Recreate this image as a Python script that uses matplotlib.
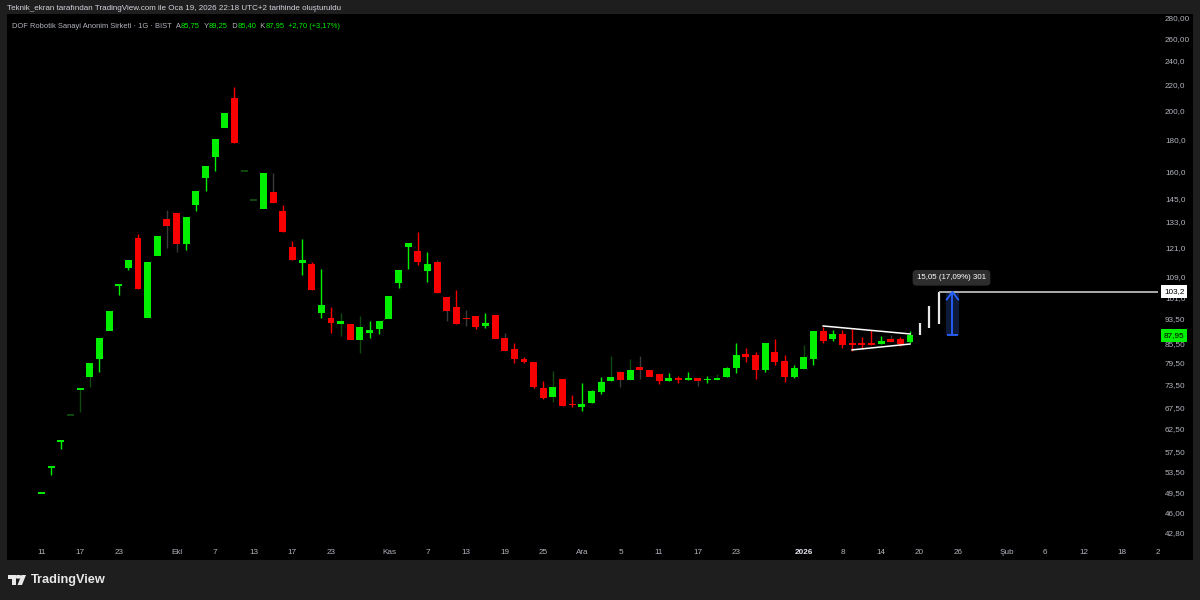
import matplotlib
matplotlib.use("Agg")
import matplotlib.pyplot as plt
from matplotlib.patches import Rectangle, Circle, Polygon
from matplotlib.transforms import blended_transform_factory
from matplotlib.ticker import FixedLocator, NullLocator, FixedFormatter, NullFormatter

plt.rcParams['font.family'] = ['Liberation Sans', 'DejaVu Sans']

# ---------------- data ----------------
opens = [49.4, 54.3, 59.75, 65.7, 72.2, 75.6, 80.7, 89.4, 105.6, 112.3,
         125.6, 93.7, 117.5, 134.5, 137.4, 122.9, 141.5, 156.3, 168.4, 187.6,
         209.1, 160.4, 144.3, 139.3, 148.2, 138.4, 121.5, 114.6, 114.2, 95.5,
         93.7, 91.6, 91.6, 86.4, 88.8, 89.9, 93.4, 106.5, 121.5, 119.6,
         111.3, 114.8, 101.1, 97.5, 93.8, 94.4, 91.1, 94.7, 87.2, 83.7,
         80.7, 79.7, 72.6, 70.3, 74.9, 68.5, 67.7, 68.6, 71.6, 74.5,
         77.0, 74.7, 78.3, 77.5, 76.4, 74.5, 75.4, 74.7, 75.4, 74.6,
         74.7, 75.6, 78.1, 82.2, 81.9, 77.6, 82.7, 80.1, 75.6, 77.8,
         80.6, 89.4, 86.9, 88.4, 85.4, 85.4, 85.4, 85.1, 86.7, 86.7,
         85.75]
highs = [49.4, 54.3, 59.75, 65.7, 72.2, 79.4, 87.2, 96.0, 105.6, 115.8,
         127.3, 114.8, 126.4, 138.9, 137.4, 135.3, 148.7, 163.3, 179.8, 197.7,
         217.9, 160.4, 144.3, 158.8, 158.8, 141.5, 124.2, 124.9, 114.8, 111.9,
         97.6, 95.5, 91.6, 94.4, 92.6, 92.6, 101.6, 111.7, 123.0, 128.3,
         119.3, 115.8, 101.1, 103.8, 96.5, 94.4, 95.3, 94.7, 88.8, 85.4,
         81.4, 79.7, 74.5, 77.2, 75.1, 70.7, 73.8, 72.0, 75.6, 81.5,
         77.3, 80.7, 81.5, 77.5, 76.4, 76.7, 75.9, 77.0, 75.4, 75.9,
         76.5, 78.3, 85.6, 84.1, 82.7, 85.6, 86.8, 81.9, 78.9, 84.9,
         89.4, 90.7, 89.7, 89.7, 90.0, 87.3, 89.7, 87.7, 88.1, 87.3,
         89.25]
lows = [49.4, 52.8, 58.0, 65.7, 66.6, 72.9, 76.9, 89.4, 101.9, 111.8,
        104.1, 93.7, 117.5, 121.1, 119.3, 120.1, 138.4, 148.9, 160.4, 187.6,
        177.6, 160.4, 144.3, 139.3, 142.7, 128.3, 115.8, 109.6, 103.8, 93.8,
        88.6, 87.8, 86.5, 82.5, 87.0, 88.4, 93.4, 104.4, 111.9, 113.7,
        107.0, 102.6, 92.8, 91.8, 91.1, 89.9, 90.2, 86.8, 83.1, 79.4,
        79.4, 72.5, 69.6, 68.9, 68.0, 67.6, 66.8, 68.6, 71.0, 74.3,
        72.9, 74.7, 74.9, 75.5, 73.7, 74.5, 73.9, 74.7, 73.2, 73.9,
        74.7, 75.6, 76.7, 79.9, 75.0, 76.9, 78.9, 74.1, 75.3, 77.8,
        78.9, 85.4, 86.2, 83.9, 83.2, 83.6, 84.9, 85.1, 85.8, 84.6,
        85.40]
closes = [49.4, 54.3, 59.75, 65.7, 72.2, 79.4, 87.2, 96.0, 105.6, 115.8,
          104.1, 114.8, 126.4, 131.2, 122.9, 135.3, 148.7, 163.3, 179.8, 197.7,
          177.6, 160.4, 144.3, 158.8, 142.7, 128.3, 115.8, 115.8, 103.8, 98.2,
          92.1, 92.8, 86.5, 90.6, 89.7, 92.6, 101.6, 111.7, 123.0, 114.9,
          114.1, 102.6, 96.1, 91.8, 93.5, 90.7, 91.9, 86.8, 83.1, 80.7,
          79.7, 72.9, 70.0, 72.9, 68.0, 68.3, 68.5, 71.8, 74.2, 75.5,
          74.7, 77.5, 77.5, 75.5, 74.4, 75.3, 74.7, 75.3, 74.5, 74.9,
          75.3, 78.0, 81.9, 81.3, 77.5, 85.6, 79.7, 75.6, 78.0, 81.3,
          89.4, 86.2, 88.4, 84.9, 84.8, 84.8, 84.9, 86.2, 85.8, 85.25,
          87.95]

xtick_pos = [0, 4, 8, 14, 18, 22, 26, 30, 36, 40, 44, 48, 52, 56, 60, 64, 68, 72,
             79, 83, 87, 91, 95, 100, 104, 108, 112]
xtick_labels = ["11", "17", "23", "Ekl", "7", "13", "17", "23", "Kas", "7", "13",
                "19", "25", "Ara", "5", "11", "17", "23", "2026", "8", "14", "20",
                "26", "Şub", "6", "12", "18"]
edge_tick_pos = 115.7
edge_tick_label = "2"

ytick_vals = [280, 260, 240, 220, 200, 180, 160, 145, 133, 121, 109, 101, 93.5,
              85.5, 79.5, 73.5, 67.5, 62.5, 57.5, 53.5, 49.5, 46.0, 42.8]
ytick_labels = ["280,00", "260,00", "240,0", "220,0", "200,0", "180,0", "160,0",
                "145,0", "133,0", "121,0", "109,0", "101,0", "93,50", "85,50",
                "79,50", "73,50", "67,50", "62,50", "57,50", "53,50", "49,50",
                "46,00", "42,80"]

# drawings
tri_upper_idx = [81, 90]
tri_upper_px = [91.0, 88.4]
tri_lower_idx = [84, 90]
tri_lower_px = [83.4, 85.2]
proj_idx = [91, 92, 93]
proj_low = [87.9, 90.2, 91.6]
proj_high = [92.0, 98.0, 103.1]
target_price = 103.2
last_price = 87.95
range_idx = 94.4
range_from = 88.0
range_to = 103.1
range_text = "15,05 (17,09%) 301"

header_text = "Teknik_ekran tarafından TradingView.com ile Oca 19, 2026 22:18 UTC+2 tarihinde oluşturuldu"
legend_parts = [("DOF Robotik Sanayi Anonim Sirketi · 1G · BIST", 'gray'),
                ("  A", 'gray'), ("85,75", 'green'),
                ("  Y", 'gray'), ("89,25", 'green'),
                ("  D", 'gray'), ("85,40", 'green'),
                ("  K", 'gray'), ("87,95", 'green'),
                ("  +2,70 (+3,17%)", 'green')]

# ---------------- style ----------------
W, H = 1200, 600
BG = '#1e1e1e'
GREEN = '#00f000'
RED = '#f80000'
DKGREEN = '#0e4a0e'
DKGRAY = '#3a3a3a'
TXT = '#b2b5be'
wick_dim = {3: DKGREEN, 4: DKGREEN, 5: DKGREEN, 13: DKGRAY, 14: DKGRAY,
            21: DKGREEN, 22: DKGREEN, 24: DKGRAY, 31: DKGREEN, 33: DKGREEN,
            41: DKGRAY, 42: DKGRAY, 44: DKGRAY, 48: DKGRAY, 53: DKGREEN,
            59: DKGREEN, 60: DKGRAY, 61: DKGREEN, 62: DKGRAY, 68: DKGRAY,
            70: DKGREEN, 79: DKGREEN, 88: DKGRAY}
body_dim = {3: DKGREEN, 21: DKGREEN, 22: DKGREEN}

fig = plt.figure(figsize=(12, 6), dpi=100, facecolor=BG)

def fx(px):
    return px / W

def fy(py):
    return 1 - py / H

# black chart panel
fig.add_artist(Rectangle((fx(7), fy(560)), fx(1193) - fx(7), fy(14) - fy(560),
                         transform=fig.transFigure, facecolor='black',
                         edgecolor='none', zorder=-1))

L_, R_, T_, B_ = 7, 1158, 14, 538
ax = fig.add_axes([fx(L_), fy(B_), fx(R_) - fx(L_), fy(T_) - fy(B_)])
ax.set_facecolor('black')
ax.set_yscale('log')
ax.set_ylim(41.98, 284.1)
ax.set_xlim(-3.575, 115.7)
for s in ax.spines.values():
    s.set_visible(False)

bw = 0.72
for i in range(len(opens)):
    o, h, l, c = opens[i], highs[i], lows[i], closes[i]
    col = GREEN if c >= o else RED
    col = body_dim.get(i, col)
    wcol = wick_dim.get(i, col)
    if h > max(o, c) or l < min(o, c):
        ax.vlines(i, l, h, colors=wcol, lw=1.0, zorder=2)
    if abs(c - o) < 0.15:
        ax.hlines((o + c) / 2, i - bw / 2, i + bw / 2, colors=col, lw=1.4, zorder=3)
    else:
        ax.bar(i, abs(c - o), bottom=min(o, c), width=bw, color=col,
               linewidth=0, zorder=3)

# triangle
ax.plot(tri_upper_idx, tri_upper_px, color='white', lw=1.1, zorder=4)
ax.plot(tri_lower_idx, tri_lower_px, color='white', lw=1.1, zorder=4)

# projected bars
ax.vlines(proj_idx, proj_low, proj_high, colors='#e8e8e8', lw=1.6, zorder=4)
ax.hlines(target_price, proj_idx[-1], 115.7, colors='#c8c8c8', lw=1.2, zorder=4)

# price range measurement
ax.add_patch(Rectangle((range_idx - 0.65, range_from), 1.3, range_to - range_from,
                       facecolor='#0e1a3a', edgecolor='none', zorder=3))
ax.vlines(range_idx, range_from, range_to, colors='#2962ff', lw=1.3, zorder=5)
ax.hlines(range_from, range_idx - 0.6, range_idx + 0.6, colors='#2962ff', lw=1.3, zorder=5)
ax.plot([range_idx - 0.6, range_idx, range_idx + 0.6],
        [range_to * 0.972, range_to, range_to * 0.972], color='#2962ff', lw=1.3, zorder=5)
ax.text(range_idx - 0.1, 108.5, range_text, color='white', fontsize=5.7,
        ha='center', va='center', zorder=6,
        bbox=dict(boxstyle='round,pad=0.55,rounding_size=0.5', facecolor='#2d2d2d',
                  edgecolor='none'))

# y axis
ax.yaxis.tick_right()
ax.yaxis.set_major_locator(FixedLocator(ytick_vals))
ax.yaxis.set_major_formatter(FixedFormatter(ytick_labels))
ax.yaxis.set_minor_locator(NullLocator())
ax.yaxis.set_minor_formatter(NullFormatter())
ax.tick_params(axis='y', length=0, pad=5, labelsize=5.9, labelcolor=TXT)

# x axis
ax.set_xticks(xtick_pos)
ax.set_xticklabels(xtick_labels)
ax.tick_params(axis='x', length=0, pad=8, labelsize=5.9, labelcolor=TXT)
for lab in ax.get_xticklabels():
    if lab.get_text() == '2026':
        lab.set_fontweight('bold')
        lab.set_color('#e0e3eb')
ax.text(edge_tick_pos, -11.1 / (B_ - T_), edge_tick_label,
        transform=blended_transform_factory(ax.transData, ax.transAxes),
        ha='center', va='top', fontsize=5.9, color=TXT, clip_on=False)

# price labels on axis
bt = blended_transform_factory(ax.transAxes, ax.transData)
xl = (1164 - L_) / (R_ - L_)
ax.text(xl, target_price, "103,2", transform=bt, color='black', fontsize=5.9,
        ha='left', va='center', clip_on=False, zorder=8,
        bbox=dict(boxstyle='square,pad=0.35', facecolor='white', edgecolor='none'))
ax.text(xl, last_price, "87,95", transform=bt, color='black', fontsize=5.9,
        ha='left', va='center', clip_on=False, zorder=8,
        bbox=dict(boxstyle='square,pad=0.35', facecolor=GREEN, edgecolor='none'))

# header band (covers clipped top label)
fig.add_artist(Rectangle((0, fy(14)), 1, fy(0) - fy(14), transform=fig.transFigure,
                         facecolor=BG, edgecolor='none', zorder=10))
fig.text(fx(7), fy(8.5), header_text, color='#d1d4dc', fontsize=5.75,
         ha='left', va='center', zorder=11)

# legend line
fig.canvas.draw()
r = fig.canvas.get_renderer()
cx = 12
for s, c in legend_parts:
    t = fig.text(fx(cx), fy(26), s, color=(TXT if c == 'gray' else GREEN),
                 fontsize=5.45, ha='left', va='center', zorder=11)
    bb = t.get_window_extent(r)
    cx = bb.x1

# TradingView logo
fig.add_artist(Rectangle((fx(8), fy(578.5)), fx(7.5), fy(575) - fy(578.5),
                         transform=fig.transFigure, facecolor='#e8e8e8', edgecolor='none', zorder=11))
fig.add_artist(Rectangle((fx(12), fy(585)), fx(3.5), fy(575) - fy(585),
                         transform=fig.transFigure, facecolor='#e8e8e8', edgecolor='none', zorder=11))
fig.add_artist(Circle((fx(18.3), fy(576.8)), 0.0031, transform=fig.transFigure,
                      facecolor='#e8e8e8', edgecolor='none', zorder=11))
fig.add_artist(Polygon([(fx(21.5), fy(575)), (fx(26), fy(575)), (fx(22), fy(585)), (fx(17.5), fy(585))],
                       closed=True, transform=fig.transFigure, facecolor='#e8e8e8',
                       edgecolor='none', zorder=11))
fig.text(fx(31), fy(580), "TradingView", color='#e8e8e8', fontsize=9.2,
         fontweight='bold', ha='left', va='center', zorder=11)

fig.savefig('out.png', dpi=100, facecolor=BG)
